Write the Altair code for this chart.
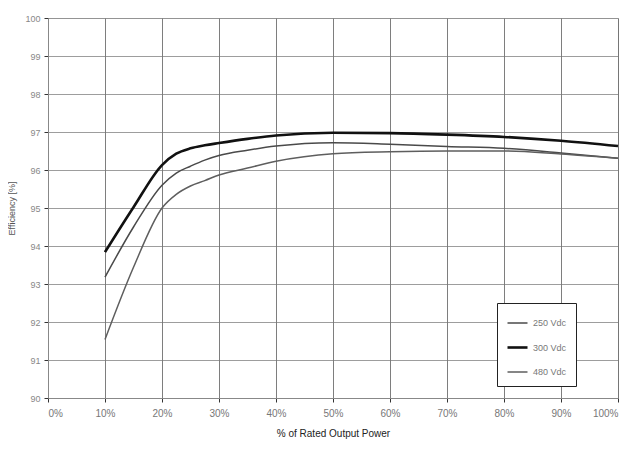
import altair as alt
import pandas as pd

load_pct = [10, 15, 20, 22.5, 25, 27.5, 30, 35, 40, 50, 60, 70, 80, 90, 100]
eff_250 = [93.18, 94.5, 95.6, 95.92, 96.1, 96.26, 96.38, 96.52, 96.63, 96.72, 96.68, 96.62, 96.57, 96.45, 96.31]
eff_300 = [93.84, 95.02, 96.13, 96.43, 96.57, 96.65, 96.71, 96.82, 96.91, 96.98, 96.97, 96.93, 96.87, 96.77, 96.63]
eff_480 = [91.54, 93.44, 95.0, 95.36, 95.58, 95.72, 95.87, 96.05, 96.23, 96.43, 96.48, 96.5, 96.5, 96.42, 96.31]
series_names = ["250 Vdc", "300 Vdc", "480 Vdc"]
x_ticks = [0, 10, 20, 30, 40, 50, 60, 70, 80, 90, 100]
y_ticks = [90, 91, 92, 93, 94, 95, 96, 97, 98, 99, 100]

rows = []
for name, vals in zip(series_names, [eff_250, eff_300, eff_480]):
    for x, v in zip(load_pct, vals):
        rows.append({"load": x, "eff": v, "series": name})
df = pd.DataFrame(rows)

font = "Liberation Sans"

legend_opts = dict(title=None, orient="none", legendX=449, legendY=285,
                   symbolType="stroke", symbolSize=400,
                   labelFont=font, labelFontSize=9, labelColor="#777",
                   strokeColor="#222", fillColor="white",
                   padding=9, rowPadding=8, labelOffset=4)

chart = alt.Chart(df).mark_line(interpolate="monotone").encode(
    x=alt.X("load:Q",
            scale=alt.Scale(domain=[0, 100], nice=False),
            axis=alt.Axis(values=x_ticks, labelExpr="datum.value + '%'",
                          title="% of Rated Output Power",
                          gridColor="#555", gridWidth=0.9, gridOpacity=0.85,
                          domainColor="#888", tickColor="#333", tickSize=4,
                          labelColor="#777", labelFontSize=10, labelFont=font,
                          labelPadding=6, titleFont=font, titleFontSize=10,
                          titleFontWeight="normal", titleColor="#222",
                          titlePadding=10)),
    y=alt.Y("eff:Q",
            scale=alt.Scale(domain=[90, 100], nice=False, zero=False),
            axis=alt.Axis(values=y_ticks, title="Efficiency [%]",
                          gridColor="#777", gridWidth=0.9, gridOpacity=0.8,
                          domainColor="#888", tickColor="#333", tickSize=4,
                          labelColor="#888", labelFontSize=9, labelFont=font,
                          labelPadding=4, titleFont=font, titleFontSize=9,
                          titleFontWeight="normal", titleColor="#555",
                          titlePadding=8)),
    color=alt.Color("series:N",
                    scale=alt.Scale(domain=series_names, range=["#4a4a4a", "#111111", "#5e5e5e"]),
                    legend=alt.Legend(**legend_opts)),
    strokeWidth=alt.StrokeWidth("series:N",
                                scale=alt.Scale(type="ordinal", domain=series_names, range=[1.5, 2.6, 1.5]),
                                legend=alt.Legend(**legend_opts)),
).properties(
    width=570, height=380,
    autosize=alt.AutoSizeParams(type="none"),
    padding={"left": 40, "top": 10, "right": 5, "bottom": 45},
).configure_view(stroke="#777", strokeWidth=1).configure(background="white")

chart.save("out.html", embed_options={"renderer": "svg", "actions": False})
